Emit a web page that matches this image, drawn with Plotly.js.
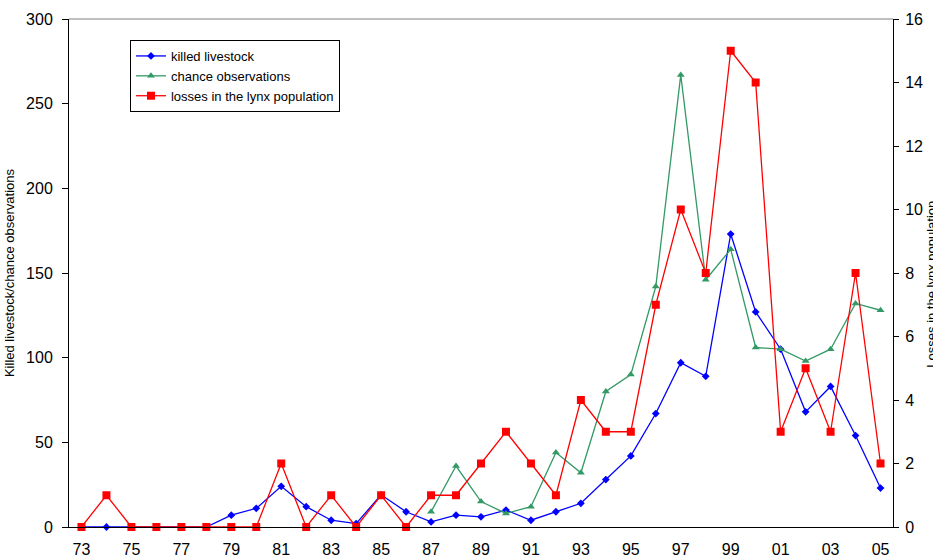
<!DOCTYPE html>
<html>
<head>
<meta charset="utf-8">
<script src="https://cdn.plot.ly/plotly-3.0.1.min.js"></script>
<style>
  html, body { margin: 0; padding: 0; background: #ffffff; }
  #chart { width: 933px; height: 556px; }
</style>
</head>
<body>
<div id="chart"></div>
<script>
// Years 1973-2005, shown as two-digit labels
const years = ['73','74','75','76','77','78','79','80','81','82','83','84','85','86','87','88','89',
               '90','91','92','93','94','95','96','97','98','99','00','01','02','03','04','05'];
// Every other year carries a label on the axis
const yearLabels = ['73','75','77','79','81','83','85','87','89','91','93','95','97','99','01','03','05'];

// Killed livestock per year (left axis)
const killedLivestock = [0,0,0,0,0,0,7,11,24,12,4,2,19,9,3,7,6,
                         10,4,9,14,28,42,67,97,89,173,127,105,68,83,54,23];

// Chance observations, recorded from 1987 (left axis)
const chanceYears = ['87','88','89','90','91','92','93','94','95','96','97','98','99','00','01','02','03','04','05'];
const chanceObservations = [9,36,15,8,12,44,32,80,90,142,267,146,164,106,105,98,105,132,128];

// Losses in the lynx population (right axis)
const lynxLosses = [0,1,0,0,0,0,0,0,2,0,1,0,1,0,1,1,2,
                    3,2,1,4,3,3,7,10,8,15,14,3,5,3,8,2];

const FONT = 'Liberation Sans, Arial, Helvetica, sans-serif';

const traces = [
  {
    name: 'killed livestock',
    x: years, y: killedLivestock,
    type: 'scatter', mode: 'lines+markers',
    line: { color: '#0000ff', width: 1.3 },
    marker: { symbol: 'diamond', size: 6, color: '#0000ff' },
    cliponaxis: false
  },
  {
    name: 'chance observations',
    x: chanceYears, y: chanceObservations,
    type: 'scatter', mode: 'lines+markers',
    line: { color: '#339966', width: 1.3 },
    marker: { symbol: 'triangle-up', size: 7, color: '#339966' },
    cliponaxis: false
  },
  {
    name: 'losses in the lynx population',
    x: years, y: lynxLosses, yaxis: 'y2',
    type: 'scatter', mode: 'lines+markers',
    line: { color: '#ff0000', width: 1.3 },
    marker: { symbol: 'square', size: 8, color: '#ff0000' },
    cliponaxis: false
  }
];

// Plain tick-only axes overlaid on the main ones give ticks that cross the axis lines
const tickOnly = {
  showticklabels: false, showline: false, showgrid: false, zeroline: false,
  tickcolor: '#000000', tickwidth: 1, fixedrange: true
};

const layout = {
  width: 933, height: 556,
  margin: { l: 69, r: 40, t: 19, b: 29, pad: 0 },
  paper_bgcolor: '#ffffff', plot_bgcolor: '#ffffff',
  font: { family: FONT, color: '#000000', size: 16 },
  showlegend: true,
  legend: {
    x: 0.074, y: 0.9587, xanchor: 'left', yanchor: 'top',
    bgcolor: '#ffffff', bordercolor: '#000000', borderwidth: 1,
    font: { family: FONT, size: 13, color: '#000000' },
    tracegroupgap: 0
  },
  xaxis: {
    type: 'category', range: [-0.5, 32.5],
    tickmode: 'array', tickvals: yearLabels, ticktext: yearLabels,
    ticks: '', ticklabelstandoff: 8,
    showline: true, linecolor: '#000000', linewidth: 1,
    showgrid: false, zeroline: false, fixedrange: true,
    tickfont: { family: FONT, size: 16, color: '#000000' }
  },
  xaxis2: Object.assign({}, tickOnly, {
    overlaying: 'x', anchor: 'y', type: 'linear', range: [-0.5, 32.5],
    tickmode: 'linear', tick0: -0.5, dtick: 1, ticks: 'outside', ticklen: 5
  }),
  xaxis3: Object.assign({}, tickOnly, {
    overlaying: 'x', anchor: 'y', type: 'linear', range: [-0.5, 32.5],
    tickmode: 'linear', tick0: -0.5, dtick: 1, ticks: 'inside', ticklen: 4
  }),
  yaxis: {
    range: [0, 300], tickmode: 'linear', tick0: 0, dtick: 50,
    ticks: 'outside', ticklen: 6, tickcolor: '#000000', ticklabelstandoff: 6,
    showline: true, linecolor: '#000000', linewidth: 1,
    showgrid: false, zeroline: false, fixedrange: true,
    tickfont: { family: FONT, size: 16, color: '#000000' },
    title: { text: 'Killed livestock/chance observations', font: { family: FONT, size: 13, color: '#000000' }, standoff: 8 }
  },
  yaxis2: {
    overlaying: 'y', side: 'right', anchor: 'x',
    range: [0, 16], tickmode: 'linear', tick0: 0, dtick: 2,
    ticks: 'outside', ticklen: 5, tickcolor: '#000000', ticklabelstandoff: 3,
    showline: true, linecolor: '#000000', linewidth: 1,
    showgrid: false, zeroline: false, fixedrange: true,
    tickfont: { family: FONT, size: 16, color: '#000000' }
  },
  yaxis3: Object.assign({}, tickOnly, {
    overlaying: 'y', side: 'left', anchor: 'x',
    range: [0, 300], tickmode: 'linear', tick0: 0, dtick: 50, ticks: 'inside', ticklen: 6
  }),
  yaxis4: Object.assign({}, tickOnly, {
    overlaying: 'y', side: 'right', anchor: 'x',
    range: [0, 16], tickmode: 'linear', tick0: 0, dtick: 2, ticks: 'inside', ticklen: 5
  }),
  // Right-hand axis title, set just past the tick labels at the page edge
  annotations: [
    { text: 'Losses in the lynx population', textangle: -90,
      xref: 'paper', yref: 'paper', x: 1, y: 0.478, xanchor: 'left', yanchor: 'middle',
      xshift: 29, showarrow: false,
      font: { family: FONT, size: 13, color: '#000000' } }
  ],
  shapes: [
    { type: 'line', xref: 'paper', yref: 'paper', x0: 0, x1: 1, y0: 1, y1: 1,
      line: { color: '#808080', width: 1 }, layer: 'below' }
  ]
};

Plotly.newPlot('chart', traces, layout, { displayModeBar: false, staticPlot: true });
</script>
</body>
</html>
